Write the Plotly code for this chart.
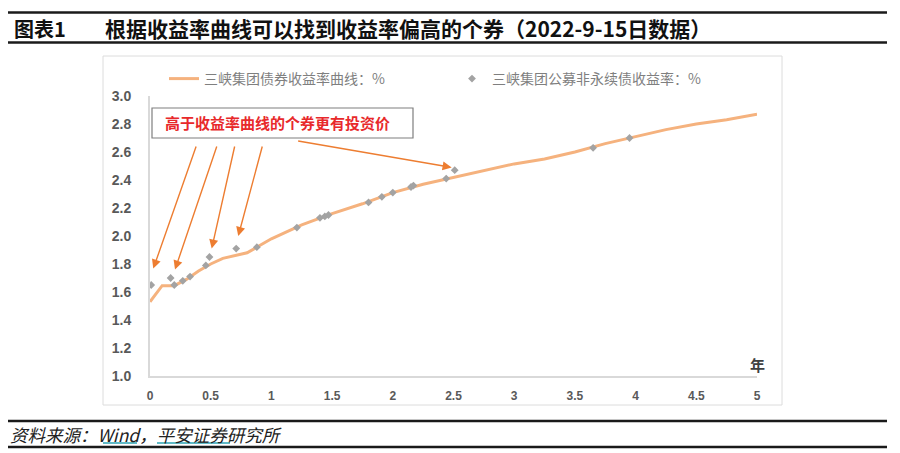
import plotly.graph_objects as go

# ---- data ----
curve_x = [0, 0.1, 0.2, 0.3, 0.4, 0.5, 0.6, 0.7, 0.8, 0.9, 1.0, 1.25, 1.5, 1.75, 2.0,
           2.25, 2.5, 2.75, 3.0, 3.25, 3.5, 3.75, 4.0, 4.25, 4.5, 4.75, 5.0]
curve_y = [1.53, 1.645, 1.645, 1.69, 1.75, 1.80, 1.84, 1.86, 1.88, 1.93, 1.98, 2.08, 2.16,
           2.23, 2.31, 2.37, 2.42, 2.47, 2.515, 2.55, 2.60, 2.66, 2.71, 2.76, 2.80, 2.83, 2.87]

bond_x = [0.01, 0.17, 0.20, 0.27, 0.33, 0.46, 0.49, 0.71, 0.88, 1.21, 1.40, 1.44, 1.47,
          1.80, 1.91, 2.00, 2.15, 2.17, 2.44, 2.51, 3.65, 3.95]
bond_y = [1.65, 1.70, 1.65, 1.68, 1.71, 1.79, 1.85, 1.91, 1.92, 2.06, 2.13, 2.14, 2.15,
          2.24, 2.28, 2.31, 2.35, 2.36, 2.41, 2.47, 2.63, 2.70]

x_ticks = [0, 0.5, 1, 1.5, 2, 2.5, 3, 3.5, 4, 4.5, 5]
x_tick_labels = ["0", "0.5", "1", "1.5", "2", "2.5", "3", "3.5", "4", "4.5", "5"]
y_ticks = [1.0, 1.2, 1.4, 1.6, 1.8, 2.0, 2.2, 2.4, 2.6, 2.8, 3.0]
y_tick_labels = ["1.0", "1.2", "1.4", "1.6", "1.8", "2.0", "2.2", "2.4", "2.6", "2.8", "3.0"]

curve_name = "三峡集团债券收益率曲线：%"
bond_name = "三峡集团公募非永续债收益率：%"
title_num = "图表1"
title_text = "根据收益率曲线可以找到收益率偏高的个券（2022-9-15日数据）"
note_text = "高于收益率曲线的个券更有投资价"
source_text = "资料来源：Wind，平安证券研究所"
x_unit = "年"

# arrows: (head_x, head_y, tail_x, tail_y) in data units
arrow_heads_x = [0.027, 0.206, 0.508, 0.727, 2.485]
arrow_heads_y = [1.767, 1.76, 1.91, 2.0, 2.49]
arrow_tails_x = [0.384, 0.554, 0.70, 0.928, 1.208]
arrow_tails_y = [2.65, 2.65, 2.65, 2.65, 2.68]

FONT = "Noto Sans CJK SC, Liberation Sans, sans-serif"

W, H = 900, 453
L, R, T, B = 150, 143, 96, 77
PW, PH = W - L - R, H - T - B


def px(xp):
    return (xp - L) / PW


def py(yp):
    return (H - B - yp) / PH


fig = go.Figure()
fig.add_trace(go.Scatter(
    x=curve_x, y=curve_y, mode="lines", name=curve_name,
    line=dict(color="#F5B27E", width=3), legend="legend"))
fig.add_trace(go.Scatter(
    x=bond_x, y=bond_y, mode="markers", name=bond_name,
    marker=dict(symbol="diamond", size=6, color="#A3A3A3"), legend="legend2"))

annotations = []
for hx, hy, tx, ty in zip(arrow_heads_x, arrow_heads_y, arrow_tails_x, arrow_tails_y):
    annotations.append(dict(
        x=hx, y=hy, ax=tx, ay=ty, xref="x", yref="y", axref="x", ayref="y",
        text="", showarrow=True, arrowhead=2, arrowsize=1.3, arrowwidth=1.4,
        arrowcolor="#ED7D31", standoff=0, startstandoff=0))

annotations += [
    dict(x=px(277.5), y=py(122.7), xref="paper", yref="paper", text="<b>" + note_text + "</b>",
         showarrow=False, font=dict(family=FONT, size=15, color="#E8292B"),
         xanchor="center", yanchor="middle"),
    dict(x=5, y=py(364), xref="x", yref="paper", text="<b>" + x_unit + "</b>",
         showarrow=False, font=dict(family=FONT, size=15, color="#404040"),
         xanchor="center", yanchor="middle"),
    dict(x=px(12), y=py(28), xref="paper", yref="paper", text="<b>" + title_num + "</b>",
         showarrow=False, font=dict(family=FONT, size=20, color="#111111"),
         xanchor="left", yanchor="middle"),
    dict(x=px(103), y=py(28), xref="paper", yref="paper", text="<b>" + title_text + "</b>",
         showarrow=False, font=dict(family=FONT, size=21, color="#111111"),
         xanchor="left", yanchor="middle"),
    dict(x=px(8), y=py(434), xref="paper", yref="paper", text="<i>" + source_text + "</i>",
         showarrow=False, font=dict(family=FONT, size=17.5, color="#222222"),
         xanchor="left", yanchor="middle"),
]

shapes = [
    # outer chart frame
    dict(type="rect", xref="paper", yref="paper", x0=px(103), x1=px(782), y0=py(405), y1=py(56),
         line=dict(color="#DCDCDC", width=1), fillcolor="rgba(0,0,0,0)", layer="below"),
    # note box
    dict(type="rect", xref="paper", yref="paper", x0=px(152), x1=px(413), y0=py(138), y1=py(108),
         line=dict(color="#7F7F7F", width=1.2), fillcolor="white"),
    # header / footer rules
    dict(type="line", xref="paper", yref="paper", x0=px(8), x1=px(887), y0=py(12.5), y1=py(12.5),
         line=dict(color="#1A1A1A", width=2.5)),
    dict(type="line", xref="paper", yref="paper", x0=px(8), x1=px(887), y0=py(42.5), y1=py(42.5),
         line=dict(color="#1A1A1A", width=2.5)),
    dict(type="line", xref="paper", yref="paper", x0=px(8), x1=px(887), y0=py(421), y1=py(421),
         line=dict(color="#1A1A1A", width=2.5)),
    dict(type="line", xref="paper", yref="paper", x0=px(8), x1=px(887), y0=py(447), y1=py(447),
         line=dict(color="#1A1A1A", width=2.5)),
    # teal underlines seen in the source footer
    dict(type="line", xref="paper", yref="paper", x0=px(103), x1=px(137), y0=py(443), y1=py(443),
         line=dict(color="#2BA3B5", width=1.5)),
    dict(type="line", xref="paper", yref="paper", x0=px(157), x1=px(230), y0=py(443), y1=py(443),
         line=dict(color="#2BA3B5", width=1.5)),
]

tickfont = dict(family="Liberation Sans, Arial, sans-serif", size=14, color="#595959", weight="bold")

fig.update_layout(
    width=W, height=H,
    margin=dict(l=L, r=R, t=T, b=B, pad=0),
    paper_bgcolor="white", plot_bgcolor="white",
    showlegend=True,
    legend=dict(orientation="h", x=px(164), y=py(79), xanchor="left", yanchor="middle",
                font=dict(family=FONT, size=14, color="#7F7F7F"), bgcolor="rgba(0,0,0,0)"),
    legend2=dict(orientation="h", x=px(452), y=py(79), xanchor="left", yanchor="middle",
                 font=dict(family=FONT, size=14, color="#7F7F7F"), bgcolor="rgba(0,0,0,0)"),
    xaxis=dict(range=[0, 5], tickvals=x_ticks, ticktext=x_tick_labels, showgrid=False,
               zeroline=False, showline=True, linecolor="#D9D9D9", linewidth=2,
               ticks="", tickfont=dict(family="Liberation Sans, Arial, sans-serif", size=12,
                                       color="#595959", weight="bold"),
               ticklabelstandoff=8, fixedrange=True),
    yaxis=dict(range=[1.0, 3.0], tickvals=y_ticks, ticktext=y_tick_labels, showgrid=False,
               zeroline=False, showline=True, linecolor="#D9D9D9", linewidth=2,
               ticks="", tickfont=tickfont, ticklabelstandoff=14, fixedrange=True),
    annotations=annotations,
    shapes=shapes,
)

fig.write_html("out.html", config={"displayModeBar": False},
               post_script="document.body.style.margin='0px';")
